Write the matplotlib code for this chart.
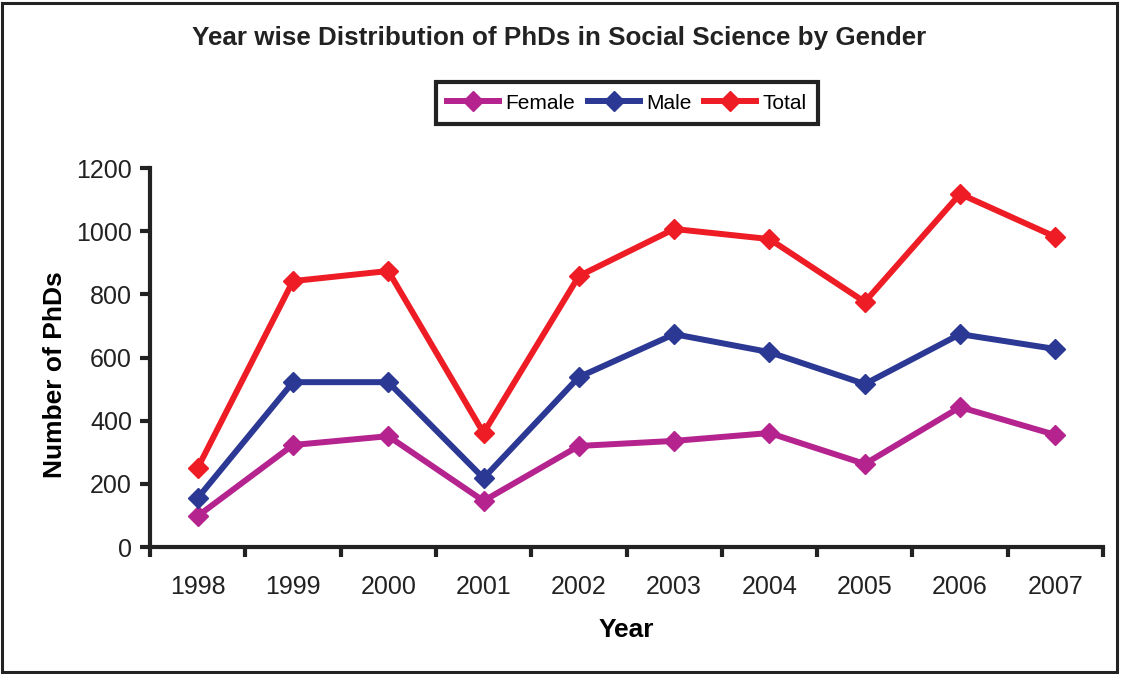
import matplotlib
matplotlib.use('Agg')
import matplotlib.pyplot as plt
from matplotlib.patches import Rectangle

plt.rcParams['font.family'] = ['Liberation Sans', 'DejaVu Sans']

years = ['1998', '1999', '2000', '2001', '2002', '2003', '2004', '2005', '2006', '2007']
female = [98, 323, 351, 146, 320, 336, 361, 263, 443, 355]
male = [155, 522, 522, 218, 538, 674, 617, 516, 674, 627]
total = [250, 842, 874, 361, 858, 1007, 975, 776, 1118, 982]
y_ticks = [0, 200, 400, 600, 800, 1000, 1200]

fig = plt.figure(figsize=(11.21, 6.74), dpi=100)
ax = fig.add_axes([0.1338, 0.1884, 0.8502, 0.5623])

x = range(len(years))
ax.plot(x, female, color='#B5238F', lw=4.3, marker='D', ms=10, label='Female')
ax.plot(x, male, color='#2B3894', lw=4.3, marker='D', ms=10, label='Male')
ax.plot(x, total, color='#EE1C25', lw=4.3, marker='D', ms=10, label='Total')

ax.set_xlim(-0.5, len(years) - 0.5)
ax.set_ylim(0, 1200)
ax.set_yticks(y_ticks)
ax.set_yticklabels([str(v) for v in y_ticks], fontsize=18, color='#222222')

# tick marks between categories, labels at the centres
ax.set_xticks([i - 0.5 for i in range(len(years) + 1)])
ax.set_xticklabels([])
ax.set_xticks(list(x), minor=True)
ax.set_xticklabels(years, minor=True, fontsize=18, color='#222222')
ax.tick_params(axis='x', which='major', length=7, width=3, color='#222222')
ax.tick_params(axis='x', which='minor', length=0, pad=20)
ax.tick_params(axis='y', length=7, width=3, color='#222222', pad=6)

ax.spines['top'].set_visible(False)
ax.spines['right'].set_visible(False)
for s in ['left', 'bottom']:
    ax.spines[s].set_linewidth(3)
    ax.spines[s].set_color('#222222')

ax.set_xlabel('Year', fontsize=19, fontweight='bold', labelpad=14)
ax.set_ylabel('Number of PhDs', fontsize=19, fontweight='bold')
ax.yaxis.set_label_coords(-0.087, 0.454)

fig.text(0.4987, 0.944, 'Year wise Distribution of PhDs in Social Science by Gender',
         ha='center', va='center', fontsize=18.7, fontweight='bold', color='#222222')

leg = fig.legend(loc='center', bbox_to_anchor=(0.559, 0.847), ncol=3, fontsize=15,
                 fancybox=False, edgecolor='#222222', framealpha=1,
                 handlelength=2.5, columnspacing=0.6, handletextpad=0.3, borderpad=0.55)
leg.get_frame().set_linewidth(3)

fig.patches.append(Rectangle((0.002, 0.003), 0.994, 0.993, transform=fig.transFigure,
                             fill=False, edgecolor='#222222', lw=2.2))

plt.savefig('out.png', dpi=100)
plt.close()
